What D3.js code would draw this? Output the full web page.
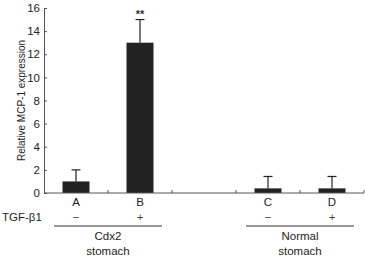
<!DOCTYPE html>
<html>
<head>
<meta charset="utf-8">
<script src="https://cdn.jsdelivr.net/npm/d3@7"></script>
<style>
  body { margin: 0; background: #fff; }
  svg { font-family: "Liberation Sans", Arial, sans-serif; }
</style>
</head>
<body>
<div id="chart"></div>
<script>
const slots = ['A', 'B', '', 'C', 'D'];
const categories = ['A', 'B', 'C', 'D'];
const values = [1, 13, 0.4, 0.4];
const errors = [1, 2, 1.03, 1.03];
const treatment = ['\u2212', '+', '\u2212', '+'];
const groups = [
    { name: ['Cdx2', 'stomach'], members: ['A', 'B'] },
    { name: ['Normal', 'stomach'], members: ['C', 'D'] }
];
const yTicks = [0, 2, 4, 6, 8, 10, 12, 14, 16];

const width = 365, height = 257;
const margin = { top: 8, right: 1, bottom: 64, left: 44 };

const svg = d3.select('#chart').append('svg')
    .attr('width', width)
    .attr('height', height);

const x = d3.scaleBand()
    .domain(slots)
    .range([margin.left, width - margin.right])
    .paddingInner(0)
    .paddingOuter(0);

const y = d3.scaleLinear()
    .domain([0, 16])
    .range([height - margin.bottom, margin.top]);

const barW = 27;
const cx = d => x(d) + x.bandwidth() / 2;
const axisColor = '#555';
const labelSize = '11.5px';

// bars
svg.selectAll('.bar')
    .data(categories)
    .enter().append('rect')
    .attr('x', d => cx(d) - barW / 2)
    .attr('y', (d, i) => y(values[i]))
    .attr('width', barW)
    .attr('height', (d, i) => y(0) - y(values[i]))
    .attr('fill', '#222');

// error bars
categories.forEach((c, i) => {
    const top = y(values[i] + errors[i]);
    svg.append('line')
        .attr('x1', cx(c)).attr('x2', cx(c))
        .attr('y1', y(values[i])).attr('y2', top)
        .attr('stroke', '#222').attr('stroke-width', 1.2);
    svg.append('line')
        .attr('x1', cx(c) - 4.5).attr('x2', cx(c) + 4.5)
        .attr('y1', top).attr('y2', top)
        .attr('stroke', '#222').attr('stroke-width', 1.2);
});

svg.append('text')
    .attr('x', cx('B'))
    .attr('y', y(15) - 2)
    .attr('text-anchor', 'middle')
    .style('font-size', '11px')
    .style('font-weight', 'bold')
    .attr('fill', '#333')
    .text('**');

// y axis
svg.append('g')
    .attr('transform', `translate(${margin.left},0)`)
    .call(d3.axisLeft(y).tickValues(yTicks).tickSize(-3).tickPadding(4))
    .call(g => g.select('.domain').attr('stroke', axisColor))
    .call(g => g.selectAll('.tick line').attr('stroke', axisColor))
    .call(g => g.selectAll('.tick text')
        .style('font-size', labelSize)
        .attr('fill', '#222')
        .style('font-family', '"Liberation Sans", Arial, sans-serif'));

// x axis
const xAxis = svg.append('g')
    .attr('transform', `translate(0,${y(0)})`);
xAxis.append('line')
    .attr('x1', margin.left).attr('x2', width - margin.right)
    .attr('stroke', axisColor);
xAxis.selectAll('.xtick')
    .data(slots.map(s => x(s) + x.bandwidth()))
    .enter().append('line')
    .attr('x1', d => d).attr('x2', d => d)
    .attr('y1', 0).attr('y2', -3)
    .attr('stroke', axisColor);

// category labels
svg.selectAll('.cat')
    .data(categories)
    .enter().append('text')
    .attr('x', d => cx(d))
    .attr('y', y(0) + 13)
    .attr('text-anchor', 'middle')
    .style('font-size', labelSize)
    .attr('fill', '#222')
    .text(d => d);

svg.append('text')
    .attr('x', 2)
    .attr('y', y(0) + 28)
    .style('font-size', labelSize)
    .attr('fill', '#222')
    .text('TGF-\u03b21');

svg.selectAll('.treat')
    .data(categories)
    .enter().append('text')
    .attr('x', d => cx(d))
    .attr('y', y(0) + 28)
    .attr('text-anchor', 'middle')
    .style('font-size', labelSize)
    .attr('fill', '#444')
    .text((d, i) => treatment[i]);

groups.forEach(g => {
    const x0 = cx(g.members[0]) - 22;
    const x1 = cx(g.members[g.members.length - 1]) + 22;
    const mid = (x0 + x1) / 2;
    svg.append('line')
        .attr('x1', x0).attr('x2', x1)
        .attr('y1', y(0) + 33).attr('y2', y(0) + 33)
        .attr('stroke', '#333');
    g.name.forEach((t, k) => {
        svg.append('text')
            .attr('x', mid)
            .attr('y', y(0) + 47 + k * 15)
            .attr('text-anchor', 'middle')
            .style('font-size', labelSize)
            .attr('fill', '#222')
            .text(t);
    });
});

svg.append('text')
    .attr('transform', 'rotate(-90)')
    .attr('x', -(y(0) + y(16)) / 2)
    .attr('y', 25)
    .attr('text-anchor', 'middle')
    .style('font-size', '10px')
    .attr('fill', '#222')
    .text('Relative MCP-1 expression');
</script>
</body>
</html>
